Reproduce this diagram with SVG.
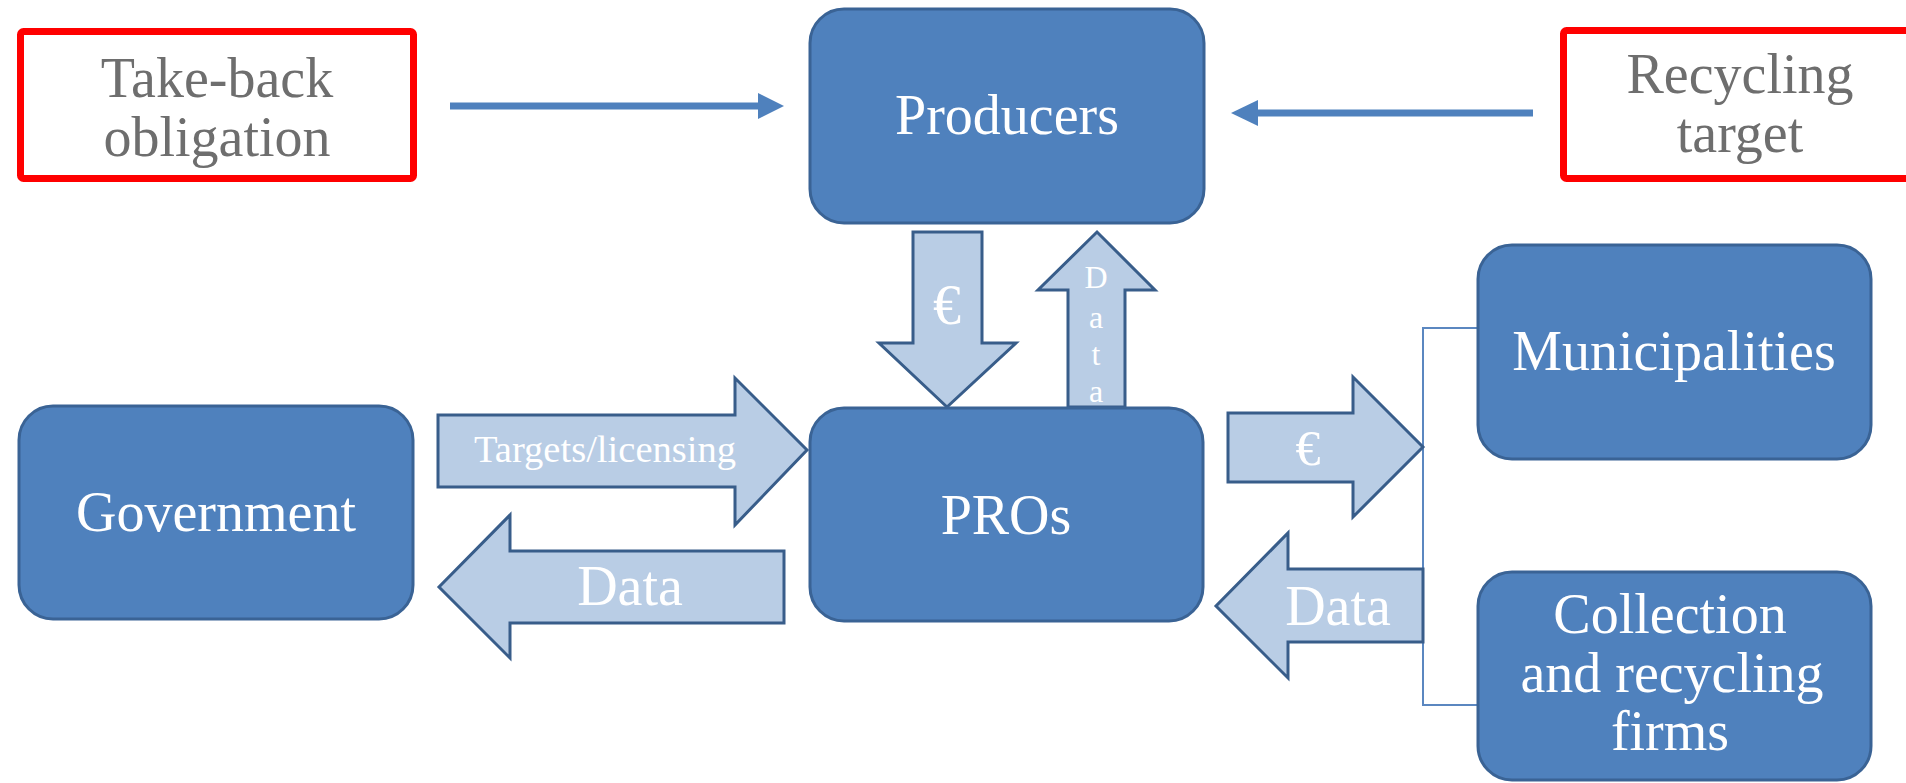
<svg xmlns="http://www.w3.org/2000/svg" width="1906" height="783" viewBox="0 0 1906 783">
<defs>
<style>
.node{fill:#4f81bd;stroke:#3a6395;stroke-width:3}
.red{fill:#ffffff;stroke:#ff0000;stroke-width:7}
.blk{fill:#b9cde5;stroke:#385d8a;stroke-width:3;stroke-linejoin:miter}
.t{font-family:"Liberation Serif","Times New Roman",serif;font-size:56px;text-anchor:middle}
.w{fill:#ffffff}
.g{fill:#6e6e6e}
.line{stroke:#4f81bd;stroke-width:7;fill:none}
.head{fill:#4f81bd}
.br{stroke:#5b87c0;stroke-width:2;fill:none}
</style>
</defs>
<rect width="1906" height="783" fill="#ffffff"/>
<g id="connectors">
  <line class="line" x1="450" y1="106" x2="762" y2="106"/>
  <polygon class="head" points="758,93 784,106 758,119"/>
  <line class="line" x1="1533" y1="113" x2="1254" y2="113"/>
  <polygon class="head" points="1258,100 1231,113 1258,126"/>
  <path class="br" d="M1477,328 H1423 V705 H1477"/>
  <g id="arrow-euro-down">
    <polygon class="blk" points="913,232 982,232 982,343 1016,343 947,407 879,343 913,343"/>
    <text class="t w" x="947" y="324" font-size="50">€</text>
  </g>
  <g id="arrow-data-up">
    <polygon class="blk" points="1068,407 1068,290 1038,290 1097,232 1155,290 1125,290 1125,407"/>
    <text class="t w" x="1096" y="288" style="font-size:32px">D</text>
    <text class="t w" x="1096" y="328" style="font-size:32px">a</text>
    <text class="t w" x="1096" y="365" style="font-size:32px">t</text>
    <text class="t w" x="1096" y="402" style="font-size:32px">a</text>
  </g>
  <g id="arrow-targets">
    <polygon class="blk" points="438,415 735,415 735,378 807,450 735,525 735,487 438,487"/>
    <text class="t w" x="605" y="462" style="font-size:38px" textLength="262" lengthAdjust="spacingAndGlyphs">Targets/licensing</text>
  </g>
  <g id="arrow-data-gov">
    <polygon class="blk" points="784,551 510,551 510,515 439,587 510,658 510,623 784,623"/>
    <text class="t w" x="630" y="605">Data</text>
  </g>
  <g id="arrow-euro-right">
    <polygon class="blk" points="1228,413 1353,413 1353,377 1423,447 1353,517 1353,482 1228,482"/>
    <text class="t w" x="1308" y="465" style="font-size:50px">€</text>
  </g>
  <g id="arrow-data-right">
    <polygon class="blk" points="1423,569 1288,569 1288,533 1216,606 1288,678 1288,642 1423,642"/>
    <text class="t w" x="1338" y="625">Data</text>
  </g>
</g>
<g id="takeback">
  <rect class="red" x="20.5" y="31.5" width="393" height="147" rx="3"/>
  <text class="t g" x="217" y="97">Take-back</text>
  <text class="t g" x="217" y="156">obligation</text>
</g>
<g id="recycling">
  <rect class="red" x="1563.5" y="30.5" width="360" height="148" rx="3"/>
  <text class="t g" x="1740" y="93">Recycling</text>
  <text class="t g" x="1740" y="152">target</text>
</g>
<g id="producers">
  <rect class="node" x="810" y="9" width="394" height="214" rx="34"/>
  <text class="t w" x="1007" y="134">Producers</text>
</g>
<g id="government">
  <rect class="node" x="19" y="406" width="394" height="213" rx="34"/>
  <text class="t w" x="216" y="531">Government</text>
</g>
<g id="pros">
  <rect class="node" x="810" y="408" width="393" height="213" rx="34"/>
  <text class="t w" x="1006" y="534">PROs</text>
</g>
<g id="municipalities">
  <rect class="node" x="1478" y="245" width="393" height="214" rx="34"/>
  <text class="t w" x="1674" y="370">Municipalities</text>
</g>
<g id="collection">
  <rect class="node" x="1478" y="572" width="393" height="208" rx="34"/>
  <text class="t w" x="1670" y="633">Collection</text>
  <text class="t w" x="1672" y="692">and recycling</text>
  <text class="t w" x="1670" y="750">firms</text>
</g>
</svg>
